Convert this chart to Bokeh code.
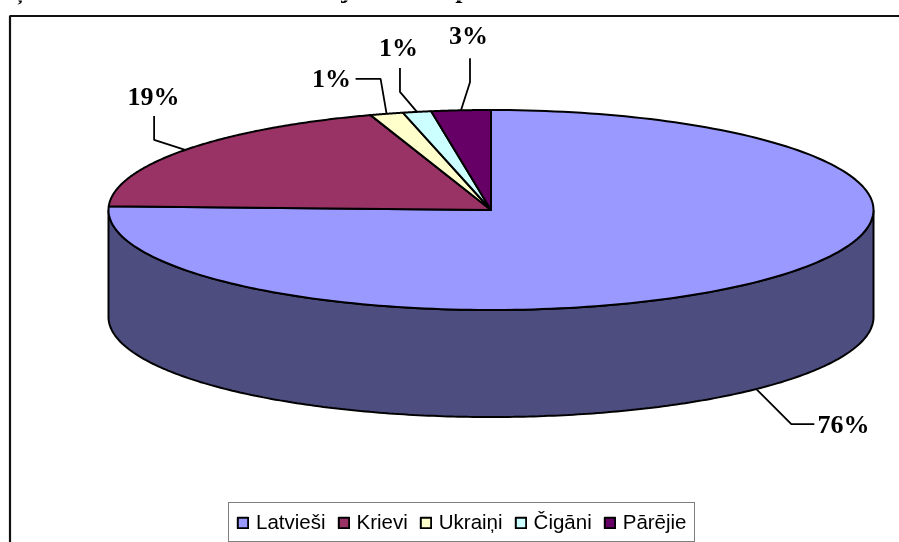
import numpy as np
from bokeh.plotting import figure
from bokeh.models import Range1d, Legend, LegendItem
from bokeh.core.properties import value
from bokeh.embed import file_html
from bokeh.resources import INLINE

categories = ["Latvieši", "Krievi", "Ukraiņi", "Čigāni", "Pārējie"]
shares = [75.6, 19.3, 1.4, 1.2, 2.5]
share_labels = ["76%", "19%", "1%", "1%", "3%"]
colors = ["#9999FF", "#993366", "#FFFFCC", "#CCFFFF", "#660066"]
wall_color = "#4D4D80"
cut_title = "ņānas lauku novadā iedzīvotāju sastāvs pēc nacionālā sastāva 2001. un 2011. "

W, H = 899, 542
CX, CY, RX, RY, DEPTH = 490.5, 209.5, 382.5, 100.0, 107.0

p = figure(width=W, height=H, output_backend="svg", toolbar_location=None,
           x_range=Range1d(0, W), y_range=Range1d(H, 0), min_border=0,
           x_axis_type=None, y_axis_type=None, outline_line_color=None,
           background_fill_color="white", border_fill_color="white",
           styles={"position": "fixed", "left": "0px", "top": "0px"})
p.grid.visible = False


def rim(a):
    a = np.asarray(a)
    return CX + RX * np.sin(a), CY - RY * np.cos(a)


# chart frame (only its top and left sides are in view)
p.line([9.5, 9.5, W + 5], [H + 5, 15.5, 15.5], line_color="#111111", line_width=2.2)

# side wall
t = np.linspace(np.pi / 2, 3 * np.pi / 2, 240)
wx, wy = rim(t)
p.patch(np.r_[wx, wx[::-1]], np.r_[wy, wy[::-1] + DEPTH], fill_color=wall_color,
        line_color="black", line_width=2)

# top slices
fractions = np.array(shares) / sum(shares)
edges = np.r_[0, np.cumsum(fractions)] * 2 * np.pi
renderers = []
for i, name in enumerate(categories):
    a = np.linspace(edges[i], edges[i + 1], 200)
    x, y = rim(a)
    r = p.patch(np.r_[CX, x], np.r_[CY, y], fill_color=colors[i],
                line_color="black", line_width=2, line_join="round")
    renderers.append(r)

# leader lines start on the rim at each slice's mid angle
mids = (edges[:-1] + edges[1:]) / 2
ax, ay = rim(mids)
ay = ay + np.where(np.cos(mids) < 0, DEPTH, 0)
elbows = [[(35, 35), (58, 35)], [(-31, -10), (-31, -34)], [(-6, -35), (19 - 50, -35)],
          [(-17, -20), (-17, -44)], [(9, -28), (9, -52)]]
label_pos = [(843, 424), (153, 96), (331, 78), (398, 47), (468, 35)]
for i in range(5):
    xs = [ax[i]] + [ax[i] + d[0] for d in elbows[i]]
    ys = [ay[i]] + [ay[i] + d[1] for d in elbows[i]]
    p.line(xs, ys, line_color="black", line_width=1.8)
    p.text([label_pos[i][0]], [label_pos[i][1]], text=[share_labels[i]],
           text_font=value("Liberation Serif"), text_font_style="bold",
           text_font_size="26px", text_align="center", text_baseline="middle",
           text_color="black")

# the title above is cut by the top of the picture
p.text([12], [-11], text=[cut_title], text_font=value("Liberation Serif"),
       text_font_style="bold", text_font_size="26px", text_align="left",
       text_baseline="middle", text_color="black")

legend = Legend(items=[LegendItem(label=n, renderers=[r]) for n, r in zip(categories, renderers)],
                orientation="horizontal", location=(228, 0), margin=0, padding=7,
                spacing=11, glyph_width=13, glyph_height=13, label_standoff=7,
                label_text_font="Liberation Sans", label_text_font_size="20.5px",
                label_height=22, label_text_color="black",
                border_line_color="black", border_line_width=1.5,
                background_fill_color="white", background_fill_alpha=1.0)
p.add_layout(legend)

open("out.html", "w").write(file_html(p, INLINE))
